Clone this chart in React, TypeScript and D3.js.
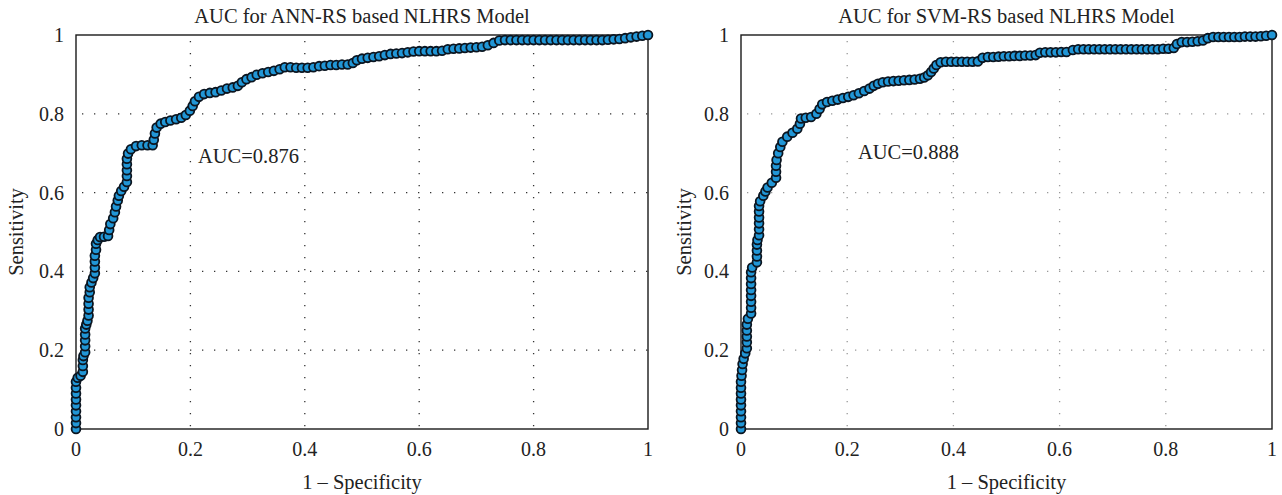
import React, { useEffect, useRef } from "react";
import * as d3 from "d3";

// ROC points [1 - specificity, sensitivity]
const annRoc: [number, number][] = [
  [0, 0], [0, 0.015], [0, 0.03], [0, 0.045], [0, 0.06], [0, 0.075], [0, 0.09], [0, 0.105], [0, 0.12],
  [0.003, 0.13], [0.008, 0.135], [0.012, 0.145], [0.012, 0.16], [0.012, 0.175], [0.013, 0.185],
  [0.016, 0.195], [0.016, 0.21], [0.016, 0.225], [0.016, 0.24], [0.016, 0.255], [0.018, 0.265], [0.02, 0.275],
  [0.022, 0.288], [0.022, 0.303], [0.022, 0.318], [0.022, 0.333], [0.024, 0.347], [0.024, 0.36], [0.027, 0.372], [0.03, 0.383],
  [0.033, 0.395], [0.033, 0.41], [0.033, 0.425], [0.033, 0.44], [0.035, 0.455], [0.035, 0.47], [0.038, 0.48], [0.042, 0.487],
  [0.049, 0.488], [0.056, 0.49], [0.058, 0.505], [0.06, 0.52], [0.065, 0.535], [0.068, 0.55], [0.07, 0.565], [0.073, 0.58],
  [0.075, 0.592], [0.079, 0.604], [0.084, 0.615],
  [0.089, 0.627], [0.089, 0.642], [0.089, 0.657], [0.089, 0.672], [0.089, 0.686], [0.091, 0.699], [0.096, 0.71], [0.105, 0.718],
  [0.115, 0.72], [0.125, 0.72], [0.134, 0.72],
  [0.136, 0.734], [0.138, 0.75], [0.141, 0.765], [0.148, 0.775], [0.156, 0.779], [0.165, 0.783], [0.175, 0.786], [0.184, 0.79],
  [0.192, 0.797], [0.199, 0.808], [0.204, 0.82], [0.208, 0.832], [0.215, 0.843], [0.224, 0.85], [0.234, 0.853], [0.244, 0.855],
  [0.254, 0.859], [0.264, 0.864], [0.274, 0.867], [0.283, 0.871], [0.29, 0.88], [0.298, 0.888], [0.307, 0.893], [0.316, 0.899],
  [0.326, 0.903], [0.336, 0.906], [0.346, 0.909], [0.356, 0.913], [0.365, 0.918], [0.375, 0.918], [0.385, 0.917], [0.395, 0.917],
  [0.405, 0.917], [0.415, 0.918], [0.425, 0.921], [0.435, 0.922], [0.445, 0.924], [0.455, 0.924], [0.465, 0.925], [0.475, 0.925],
  [0.484, 0.929], [0.491, 0.936], [0.5, 0.94], [0.51, 0.942], [0.52, 0.944], [0.53, 0.946], [0.54, 0.949], [0.55, 0.952],
  [0.56, 0.953], [0.57, 0.954], [0.58, 0.956], [0.59, 0.958], [0.6, 0.959], [0.61, 0.959], [0.62, 0.959], [0.63, 0.959],
  [0.64, 0.96], [0.65, 0.964], [0.66, 0.965], [0.67, 0.966], [0.68, 0.967], [0.69, 0.968], [0.7, 0.969], [0.71, 0.97],
  [0.72, 0.974], [0.73, 0.98], [0.74, 0.986], [0.75, 0.987], [0.76, 0.987], [0.77, 0.987], [0.78, 0.987], [0.79, 0.987],
  [0.8, 0.987], [0.81, 0.987], [0.82, 0.987], [0.83, 0.987], [0.84, 0.987], [0.85, 0.987], [0.86, 0.987], [0.87, 0.987],
  [0.88, 0.987], [0.89, 0.987], [0.9, 0.987], [0.91, 0.987], [0.92, 0.987], [0.93, 0.988], [0.94, 0.989], [0.95, 0.99],
  [0.96, 0.992], [0.97, 0.994], [0.98, 0.996], [0.99, 0.998], [1, 1],
];

const svmRoc: [number, number][] = [
  [0, 0], [0, 0.015], [0, 0.03], [0, 0.045], [0, 0.06], [0, 0.075], [0, 0.09], [0, 0.105], [0, 0.12],
  [0.001, 0.135], [0.002, 0.15], [0.003, 0.165], [0.005, 0.178], [0.008, 0.192],
  [0.011, 0.205], [0.011, 0.22], [0.011, 0.235], [0.011, 0.25], [0.011, 0.265], [0.013, 0.28],
  [0.019, 0.293], [0.019, 0.308], [0.019, 0.323], [0.019, 0.338], [0.019, 0.353], [0.019, 0.368], [0.019, 0.383], [0.019, 0.398],
  [0.021, 0.41], [0.03, 0.423], [0.03, 0.438], [0.03, 0.453], [0.03, 0.468], [0.031, 0.48],
  [0.034, 0.492], [0.034, 0.507], [0.034, 0.522], [0.034, 0.537], [0.034, 0.552], [0.034, 0.566], [0.036, 0.578], [0.042, 0.592],
  [0.046, 0.603], [0.05, 0.613], [0.058, 0.625],
  [0.066, 0.638], [0.066, 0.653], [0.066, 0.668], [0.067, 0.683], [0.07, 0.7], [0.074, 0.716], [0.078, 0.729], [0.087, 0.742],
  [0.097, 0.752], [0.106, 0.762], [0.111, 0.775], [0.113, 0.788], [0.122, 0.79], [0.132, 0.792], [0.142, 0.8], [0.148, 0.812],
  [0.153, 0.824], [0.162, 0.83], [0.172, 0.833], [0.182, 0.836], [0.192, 0.84], [0.202, 0.843], [0.212, 0.847], [0.222, 0.852],
  [0.232, 0.858], [0.242, 0.864], [0.25, 0.871], [0.258, 0.876], [0.267, 0.88], [0.277, 0.882], [0.287, 0.883], [0.297, 0.884],
  [0.307, 0.885], [0.317, 0.886], [0.327, 0.887], [0.337, 0.889], [0.345, 0.892], [0.352, 0.898], [0.358, 0.906], [0.363, 0.915],
  [0.368, 0.924], [0.376, 0.931], [0.386, 0.932], [0.396, 0.932], [0.406, 0.932], [0.416, 0.932], [0.426, 0.932], [0.436, 0.932],
  [0.446, 0.933], [0.455, 0.942], [0.465, 0.944], [0.475, 0.944], [0.485, 0.945], [0.495, 0.946], [0.505, 0.946], [0.515, 0.947],
  [0.525, 0.947], [0.535, 0.948], [0.545, 0.948], [0.555, 0.949], [0.563, 0.955], [0.573, 0.956], [0.583, 0.956], [0.593, 0.956],
  [0.603, 0.957], [0.613, 0.957], [0.625, 0.962], [0.635, 0.964], [0.645, 0.964], [0.655, 0.964], [0.665, 0.964], [0.675, 0.964],
  [0.685, 0.964], [0.695, 0.964], [0.705, 0.964], [0.715, 0.964], [0.725, 0.964], [0.735, 0.964], [0.745, 0.964], [0.755, 0.964],
  [0.765, 0.964], [0.775, 0.964], [0.785, 0.964], [0.795, 0.965], [0.805, 0.965], [0.815, 0.967], [0.821, 0.977], [0.83, 0.982],
  [0.84, 0.982], [0.85, 0.983], [0.86, 0.984], [0.87, 0.986], [0.879, 0.992], [0.889, 0.995], [0.899, 0.995], [0.909, 0.995],
  [0.919, 0.995], [0.929, 0.995], [0.939, 0.995], [0.949, 0.996], [0.959, 0.996], [0.969, 0.996], [0.979, 0.997], [0.989, 0.998],
  [1, 1],
];

const axisTicks = [0, 0.2, 0.4, 0.6, 0.8, 1];
const panelTitles = ["AUC for ANN-RS based NLHRS Model", "AUC for SVM-RS based NLHRS Model"];
const aucLabels = ["AUC=0.876", "AUC=0.888"];
const xLabel = "1 \u2013 Specificity";
const yLabel = "Sensitivity";

const FONT = "'Liberation Serif', 'DejaVu Serif', serif";

const panels = [
  { data: annRoc, title: panelTitles[0], auc: aucLabels[0], x0: 76, x1: 648, aucX: 198, aucY: 163, yLabX: 23, grid: "#333" },
  { data: svmRoc, title: panelTitles[1], auc: aucLabels[1], x0: 741, x1: 1272, aucX: 858, aucY: 159, yLabX: 691, grid: "#999" },
];

const App = () => {
  const svgRef = useRef<SVGSVGElement>(null);

  useEffect(() => {
    const svg = d3.select(svgRef.current);
    svg.selectAll("*").remove();

    const top = 35;
    const bottom = 429;

    panels.forEach((p) => {
      const x = d3.scaleLinear().domain([0, 1]).range([p.x0, p.x1]);
      const y = d3.scaleLinear().domain([0, 1]).range([bottom, top]);
      const g = svg.append("g");

      // dotted grid
      const inner = axisTicks.slice(1, -1);
      g.selectAll(".vgrid")
        .data(inner)
        .join("line")
        .attr("x1", (d) => x(d))
        .attr("x2", (d) => x(d))
        .attr("y1", top + 6)
        .attr("y2", bottom)
        .attr("stroke", p.grid)
        .attr("stroke-width", 1.3)
        .attr("stroke-dasharray", "1.3,10.7");
      g.selectAll(".hgrid")
        .data(inner)
        .join("line")
        .attr("x1", p.x0 + 6)
        .attr("x2", p.x1)
        .attr("y1", (d) => y(d))
        .attr("y2", (d) => y(d))
        .attr("stroke", p.grid)
        .attr("stroke-width", 1.3)
        .attr("stroke-dasharray", "1.3,10.7");

      // box
      g.append("rect")
        .attr("x", p.x0)
        .attr("y", top)
        .attr("width", p.x1 - p.x0)
        .attr("height", bottom - top)
        .attr("fill", "none")
        .attr("stroke", "#1a1a1a")
        .attr("stroke-width", 1.4);

      // tick labels
      g.selectAll(".xt")
        .data(axisTicks)
        .join("text")
        .attr("x", (d) => x(d))
        .attr("y", 456)
        .attr("text-anchor", "middle")
        .attr("font-family", FONT)
        .attr("font-size", 20)
        .attr("fill", "#222")
        .text((d) => String(d));
      g.selectAll(".yt")
        .data(axisTicks)
        .join("text")
        .attr("x", p.x0 - 12)
        .attr("y", (d) => y(d) + 7)
        .attr("text-anchor", "end")
        .attr("font-family", FONT)
        .attr("font-size", 20)
        .attr("fill", "#222")
        .text((d) => String(d));

      // titles and axis labels
      const cx = (p.x0 + p.x1) / 2;
      g.append("text")
        .attr("x", cx)
        .attr("y", 23)
        .attr("text-anchor", "middle")
        .attr("font-family", FONT)
        .attr("font-size", 20.5)
        .attr("fill", "#222")
        .text(p.title);
      g.append("text")
        .attr("x", cx)
        .attr("y", 489)
        .attr("text-anchor", "middle")
        .attr("font-family", FONT)
        .attr("font-size", 20.5)
        .attr("fill", "#222")
        .text(xLabel);
      g.append("text")
        .attr("transform", `translate(${p.yLabX},${(top + bottom) / 2}) rotate(-90)`)
        .attr("text-anchor", "middle")
        .attr("font-family", FONT)
        .attr("font-size", 20.5)
        .attr("fill", "#222")
        .text(yLabel);

      // curve: dark line under circle markers
      const line = d3
        .line<[number, number]>()
        .x((d) => x(d[0]))
        .y((d) => y(d[1]));
      g.append("path")
        .attr("d", line(p.data))
        .attr("fill", "none")
        .attr("stroke", "#0b1520")
        .attr("stroke-width", 3);
      g.selectAll(".pt")
        .data(p.data)
        .join("circle")
        .attr("cx", (d) => x(d[0]))
        .attr("cy", (d) => y(d[1]))
        .attr("r", 4.4)
        .attr("fill", "#2196d6")
        .attr("stroke", "#0b1520")
        .attr("stroke-width", 1.8);

      g.append("text")
        .attr("x", p.aucX)
        .attr("y", p.aucY)
        .attr("font-family", FONT)
        .attr("font-size", 20.5)
        .attr("fill", "#222")
        .text(p.auc);
    });
  }, []);

  return (
    <svg
      ref={svgRef}
      width={1282}
      height={495}
      style={{ position: "absolute", left: 0, top: 0, display: "block", background: "#fff" }}
    ></svg>
  );
};

export default App;
